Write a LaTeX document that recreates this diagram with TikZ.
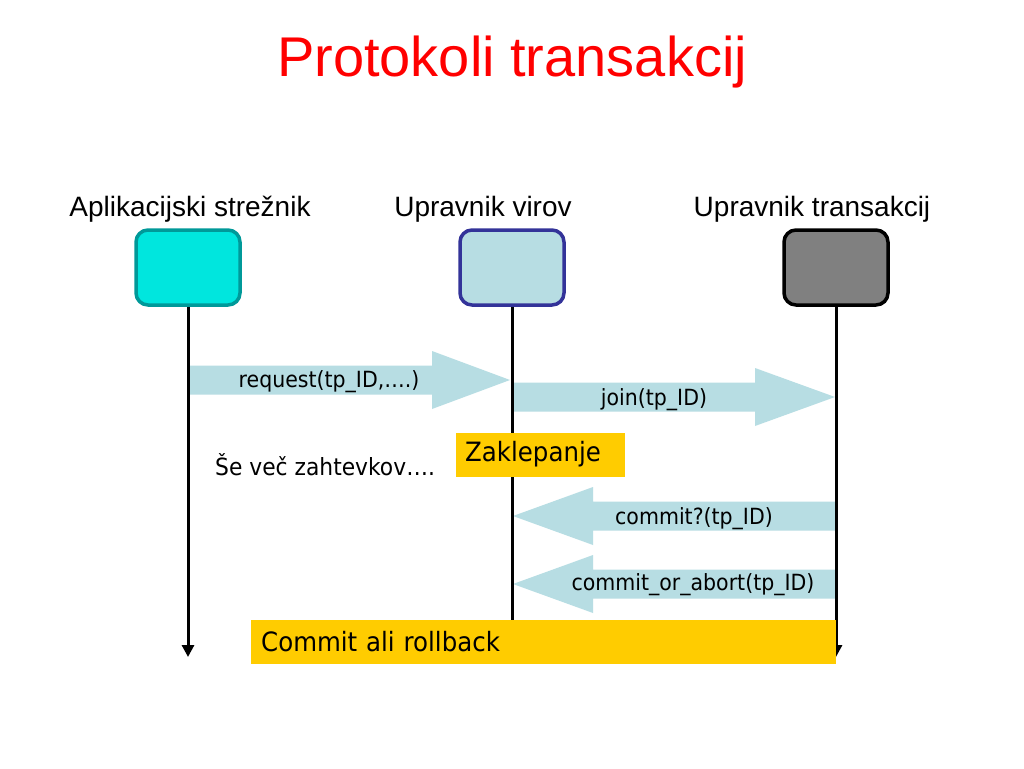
\documentclass[tikz,border=0pt]{standalone}
\usepackage{fontspec}
\setmainfont{Liberation Sans}
\newfontfamily\labfont[FakeStretch=0.92]{DejaVu Sans}
\usetikzlibrary{arrows.meta}
\definecolor{titlered}{HTML}{FF0000}
\definecolor{cyanfill}{HTML}{00E6DE}
\definecolor{tealline}{HTML}{009999}
\definecolor{lightblue}{HTML}{B7DDE3}
\definecolor{navyline}{HTML}{333399}
\definecolor{grayfill}{HTML}{808080}
\definecolor{gold}{HTML}{FFCC00}
\tikzset{
  actorbox/.style={draw, line width=3.5pt, rounded corners=12pt, minimum width=104pt, minimum height=75pt, inner sep=0pt},
  header/.style={font=\fontsize{28}{32}\selectfont, inner sep=0pt},
  msg/.style={font=\labfont\fontsize{22.3}{26}\selectfont, inner sep=0pt},
  lifeline/.style={line width=3pt},
  blockarrow/.style={fill=lightblue, draw=none},
  notebox/.style={fill=gold, draw=none, inner xsep=0pt, inner ysep=0pt, align=left, anchor=west, font=\labfont\fontsize{26.6}{30}\selectfont},
}
\begin{document}
\begin{tikzpicture}[x=1pt,y=-1pt]
\useasboundingbox (0,0) rectangle (1024,768);
\fill[white] (0,0) rectangle (1024,768);

% title
\node[font=\fontsize{56}{60}\selectfont, text=titlered, inner sep=0pt] (title) at (512,62) {Protokoli transakcij};

% headers
\node[header] (h1) at (190,209) {Aplikacijski strežnik};
\node[header] (h2) at (483,209) {Upravnik virov};
\node[header] (h3) at (812,209) {Upravnik transakcij};

% actor boxes
\node[actorbox, fill=cyanfill, draw=tealline] (b1) at (188,267.5) {};
\node[actorbox, fill=lightblue, draw=navyline] (b2) at (512,267.5) {};
\node[actorbox, fill=grayfill, draw=black] (b3) at (836,267.5) {};

% lifeline ends
\coordinate (e1) at (188,657);
\coordinate (e2) at (512,630);
\coordinate (e3) at (836,657);

% block arrows
\fill[blockarrow] (188,365.5) -- (432,365.5) -- (432,351) -- (510,380) -- (432,409) -- (432,394.5) -- (188,394.5) -- cycle;
\fill[blockarrow] (512,382.5) -- (755,382.5) -- (755,368) -- (835,397) -- (755,426) -- (755,411.5) -- (512,411.5) -- cycle;
\fill[blockarrow] (836,501.5) -- (593,501.5) -- (593,487) -- (513,516) -- (593,545) -- (593,530.5) -- (836,530.5) -- cycle;
\fill[blockarrow] (836,569.5) -- (593,569.5) -- (593,555) -- (513,584) -- (593,613) -- (593,598.5) -- (836,598.5) -- cycle;

% lifelines
\draw[lifeline, -{Triangle[width=12pt,length=12pt]}] (b1.south) -- (e1);
\draw[lifeline] (b2.south) -- (e2);
\draw[lifeline, -{Triangle[width=12pt,length=12pt]}] (b3.south) -- (e3);

% message labels
\node[msg] (m1) at (329,382) {request(tp\_ID,….)};
\node[msg] (m2) at (654,400) {join(tp\_ID)};
\node[msg] (m3) at (694,519) {commit?(tp\_ID)};
\node[msg] (m4) at (693,585) {commit\_or\_abort(tp\_ID)};

% other texts
\node[msg, font=\labfont\fontsize{23.7}{28}\selectfont, anchor=west] (more) at (215,465) {Še več zahtevkov….};

% yellow boxes
\node[notebox, minimum width=169pt, minimum height=44pt, text width=169pt] (lock) at (456,454.5) {\hspace*{9pt}\raisebox{-2pt}{Zaklepanje}};
\node[notebox, minimum width=585pt, minimum height=44pt, text width=585pt] (cr) at (251,642) {\hspace*{10pt}\raisebox{-2pt}{Commit ali rollback}};
\end{tikzpicture}
\end{document}
